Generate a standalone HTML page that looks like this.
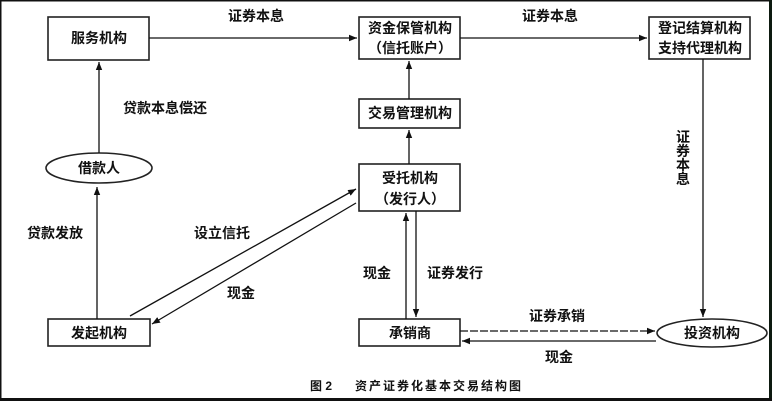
<!DOCTYPE html>
<html><head><meta charset="utf-8"><style>
html,body{margin:0;padding:0;background:#fff;}
svg{display:block;}
text{font-family:"Liberation Sans","Noto Sans CJK SC",sans-serif;font-weight:bold;font-size:14px;fill:#111;}
</style></head><body>
<svg width="772" height="401" viewBox="0 0 772 401" xmlns="http://www.w3.org/2000/svg">
<defs>
<marker id="a" viewBox="0 0 10 10" refX="10" refY="5" markerWidth="8" markerHeight="8" orient="auto-start-reverse" markerUnits="userSpaceOnUse"><path d="M0,1 L10,5 L0,9 z" fill="#111"/></marker>
</defs>
<rect x="0" y="0" width="772" height="401" fill="#fff"/>
<g fill="none" stroke="#222" stroke-width="1.6">
<rect x="48" y="17" width="101" height="43"/>
<rect x="359" y="17" width="101" height="42"/>
<rect x="649" y="17" width="101" height="42"/>
<rect x="359" y="99" width="101" height="29"/>
<rect x="359" y="164" width="101" height="47"/>
<rect x="48" y="319" width="102" height="27"/>
<rect x="359" y="319" width="101" height="27"/>
<ellipse cx="99" cy="168" rx="53" ry="15"/>
<ellipse cx="712" cy="333" rx="55" ry="14"/>
</g>
<g stroke="#111" stroke-width="1.3" fill="none">
<line x1="149" y1="38" x2="357" y2="38" marker-end="url(#a)"/>
<line x1="460" y1="38" x2="647" y2="38" marker-end="url(#a)"/>
<line x1="99" y1="153" x2="99" y2="62" marker-end="url(#a)"/>
<line x1="97" y1="319" x2="97" y2="187" marker-end="url(#a)"/>
<line x1="409" y1="99" x2="409" y2="61" marker-end="url(#a)"/>
<line x1="409" y1="164" x2="409" y2="130" marker-end="url(#a)"/>
<line x1="130" y1="316" x2="356" y2="189" marker-end="url(#a)"/>
<line x1="356" y1="203" x2="152" y2="324" marker-end="url(#a)"/>
<line x1="406" y1="319" x2="406" y2="213" marker-end="url(#a)"/>
<line x1="416" y1="211" x2="416" y2="317" marker-end="url(#a)"/>
<line x1="703" y1="59" x2="703" y2="317" marker-end="url(#a)"/>
<line x1="460" y1="331" x2="655" y2="331" stroke-dasharray="8,2" marker-end="url(#a)"/>
<line x1="656" y1="341" x2="462" y2="341" marker-end="url(#a)"/>
</g>
<g text-anchor="middle">
<text x="99" y="43">服务机构</text>
<text x="410" y="33">资金保管机构</text>
<text x="410" y="53">（信托账户）</text>
<text x="700" y="33">登记结算机构</text>
<text x="700" y="53">支持代理机构</text>
<text x="410" y="118">交易管理机构</text>
<text x="410" y="183">受托机构</text>
<text x="410" y="204">（发行人）</text>
<text x="99" y="173">借款人</text>
<text x="99" y="338">发起机构</text>
<text x="410" y="338">承销商</text>
<text x="712" y="338">投资机构</text>
<text x="256" y="21">证券本息</text>
<text x="550" y="21">证券本息</text>
<text x="165" y="113">贷款本息偿还</text>
<text x="55" y="238">贷款发放</text>
<text x="222" y="238">设立信托</text>
<text x="241" y="298">现金</text>
<text x="377" y="278">现金</text>
<text x="455" y="278">证券发行</text>
<text x="557" y="321">证券承销</text>
<text x="559" y="362">现金</text>
</g>
<g text-anchor="middle">
<text x="683" y="142">证</text>
<text x="683" y="156">券</text>
<text x="683" y="170">本</text>
<text x="683" y="184">息</text>
</g>
<text x="310" y="390" style="font-size:12px">图 2</text>
<text x="355" y="390" style="font-size:12px;letter-spacing:2px">资产证券化基本交易结构图</text>
<rect x="0.75" y="0.75" width="769" height="398.5" fill="none" stroke="#111" stroke-width="1.5"/>
<line x1="770.5" y1="0" x2="770.5" y2="401" stroke="#0d1a10" stroke-width="3"/>
<line x1="0" y1="399.5" x2="772" y2="399.5" stroke="#111" stroke-width="3"/>
</svg>
</body></html>
